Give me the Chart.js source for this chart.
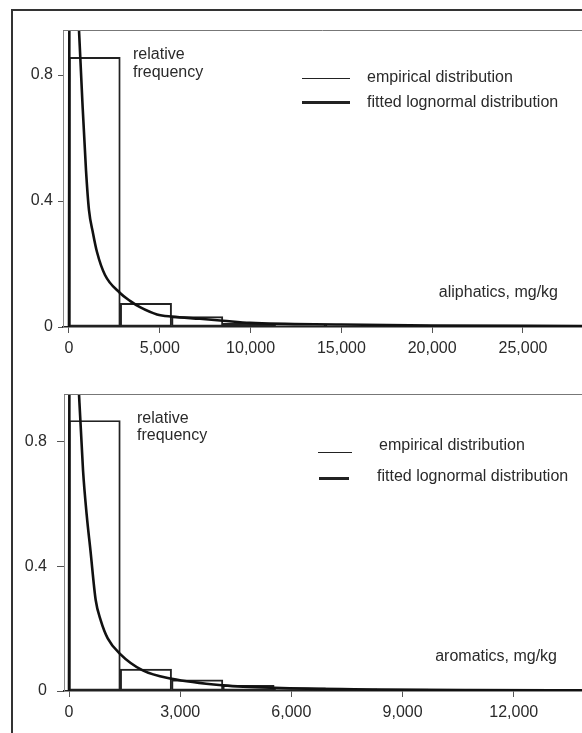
<!DOCTYPE html>
<html><head><meta charset="utf-8">
<script src="https://cdn.jsdelivr.net/npm/chart.js@4.4.1/dist/chart.umd.min.js"></script>
<style>
html,body{margin:0;padding:0;background:#fff;}
body{width:582px;height:733px;position:relative;overflow:hidden;font-family:'Liberation Sans',Arial,sans-serif;color:#2a2a2a;}
#frame{position:absolute;left:11px;top:9px;width:800px;height:900px;border-left:2px solid #333;border-top:2px solid #333;}
canvas{position:absolute;left:0;}
.t{position:absolute;font-size:16px;line-height:18px;white-space:nowrap;}
.ln{position:absolute;background:#222;}
</style></head><body>
<div id="frame"></div>
<canvas id="c1" width="582" height="365" style="top:0"></canvas>
<canvas id="c2" width="582" height="368" style="top:365px"></canvas>

<div class="t" style="left:133px;top:45px;line-height:17.5px">relative<br>frequency</div>
<div class="ln" style="left:302px;top:78px;width:48px;height:1px"></div>
<div class="t" style="left:367px;top:68px">empirical distribution</div>
<div class="ln" style="left:302px;top:101px;width:48px;height:3px"></div>
<div class="t" style="left:367px;top:93px">fitted lognormal distribution</div>
<div class="t" style="right:24px;top:283px">aliphatics, mg/kg</div>

<div class="t" style="left:137px;top:409px;line-height:17px">relative<br>frequency</div>
<div class="ln" style="left:318px;top:452px;width:34px;height:1px"></div>
<div class="t" style="left:379px;top:436px">empirical distribution</div>
<div class="ln" style="left:319px;top:477px;width:30px;height:3px"></div>
<div class="t" style="left:377px;top:467px">fitted lognormal distribution</div>
<div class="t" style="right:25px;top:647px">aromatics, mg/kg</div>

<script>
// ---------- data ----------
const yTicks = [0, 0.4, 0.8];

// aliphatics
const aliXTicks = [0, 5000, 10000, 15000, 20000, 25000];
const aliBinCenters = [1412, 4238, 7062, 9888, 12712, 15538, 18362, 21188, 24012, 26838];
const aliBinFreq = [0.856, 0.075, 0.033, 0.012, 0.006, 0.007, 0.006, 0.004, 0.004, 0.003];
const aliCurveX = [0, 40, 551, 733, 936, 1101, 1322, 1542, 1983, 2809, 3359, 3910, 4846, 5672, 7214, 8481, 9968, 15000, 20000, 28250];
const aliCurveY = [0, 1.6, 0.943, 0.72, 0.498, 0.371, 0.298, 0.238, 0.165, 0.108, 0.083, 0.063, 0.040, 0.033, 0.026, 0.020, 0.013, 0.008, 0.005, 0.003];

// aromatics
const aroXTicks = [0, 3000, 6000, 9000, 12000];
const aroBinCenters = [692, 2076, 3460, 4844, 6228, 7612, 8996, 10380, 11764, 13148];
const aroBinFreq = [0.868, 0.07, 0.036, 0.018, 0.010, 0.007, 0.006, 0.004, 0.003, 0.003];
const aroCurveX = [0, 20, 270, 378, 478, 578, 721, 856, 1045, 1369, 1990, 2773, 4171, 5546, 8300, 10800, 13842];
const aroCurveY = [0, 1.6, 0.953, 0.709, 0.564, 0.452, 0.291, 0.227, 0.169, 0.12, 0.066, 0.039, 0.018, 0.010, 0.005, 0.003, 0.002];

// ---------- drawing ----------
Chart.defaults.font.family = "'Liberation Sans', Arial, sans-serif";
Chart.defaults.font.size = 16;
Chart.defaults.color = '#2a2a2a';

const framePlugin = {
  id: 'frameTop',
  afterDraw(chart) {
    const a = chart.chartArea, ctx = chart.ctx;
    ctx.save();
    ctx.strokeStyle = '#777';
    ctx.lineWidth = 1;
    ctx.beginPath();
    ctx.moveTo(a.left, a.top + 0.5);
    ctx.lineTo(a.right, a.top + 0.5);
    ctx.stroke();
    ctx.restore();
  }
};

function makeChart(id, o) {
  const bars = o.centers.map((c, i) => ({x: c, y: o.freq[i]}));
  const curve = o.cx.map((x, i) => ({x: x, y: o.cy[i]}));
  return new Chart(document.getElementById(id), {
    type: 'bar',
    data: {
      datasets: [
        {type: 'line', data: curve, borderColor: '#111', borderWidth: 2.6, pointRadius: 0,
         cubicInterpolationMode: 'monotone', fill: false, order: 0},
        {type: 'bar', data: bars, backgroundColor: 'rgba(0,0,0,0)', borderColor: '#222',
         borderWidth: 1.3, borderSkipped: false, barPercentage: 1, categoryPercentage: 1, order: 1}
      ]
    },
    options: {
      responsive: false,
      devicePixelRatio: 1,
      animation: false,
      layout: {padding: {top: o.padTop, right: 0, bottom: 0, left: 0}},
      plugins: {legend: {display: false}, tooltip: {enabled: false}},
      scales: {
        x: {
          type: 'linear', min: o.xmin, max: o.xmax, offset: false,
          afterBuildTicks: s => { s.ticks = o.xticks.map(v => ({value: v})); },
          afterFit: s => { s.height = o.xh; },
          ticks: {maxRotation: 0, autoSkip: false, padding: 6,
                  callback: v => v.toLocaleString('en-US')},
          grid: {display: true, offset: false, drawOnChartArea: false, drawTicks: true, tickLength: 6,
                 color: '#555', lineWidth: 1},
          border: {display: true, color: '#222', width: 1.5}
        },
        y: {
          type: 'linear', min: 0, max: o.ymax,
          afterBuildTicks: s => { s.ticks = yTicks.map(v => ({value: v})); },
          afterFit: s => { s.width = o.yw; },
          ticks: {padding: o.ypad, callback: v => (v === 0 ? '0' : v.toFixed(1))},
          grid: {display: true, offset: false, drawOnChartArea: false, drawTicks: true, tickLength: o.ytl,
                 color: '#555', lineWidth: 1},
          border: {display: true, color: '#888', width: 1}
        }
      }
    },
    plugins: [framePlugin]
  });
}

makeChart('c1', {centers: aliBinCenters, freq: aliBinFreq, cx: aliCurveX, cy: aliCurveY,
  xticks: aliXTicks, xmin: -330, xmax: 28250, ymax: 0.943, padTop: 30, xh: 38, yw: 63, ypad: 5, ytl: 5});
makeChart('c2', {centers: aroBinCenters, freq: aroBinFreq, cx: aroCurveX, cy: aroCurveY,
  xticks: aroXTicks, xmin: -135, xmax: 13842, ymax: 0.953, padTop: 29, xh: 42, yw: 64, ypad: 10, ytl: 7});
</script>
</body></html>
